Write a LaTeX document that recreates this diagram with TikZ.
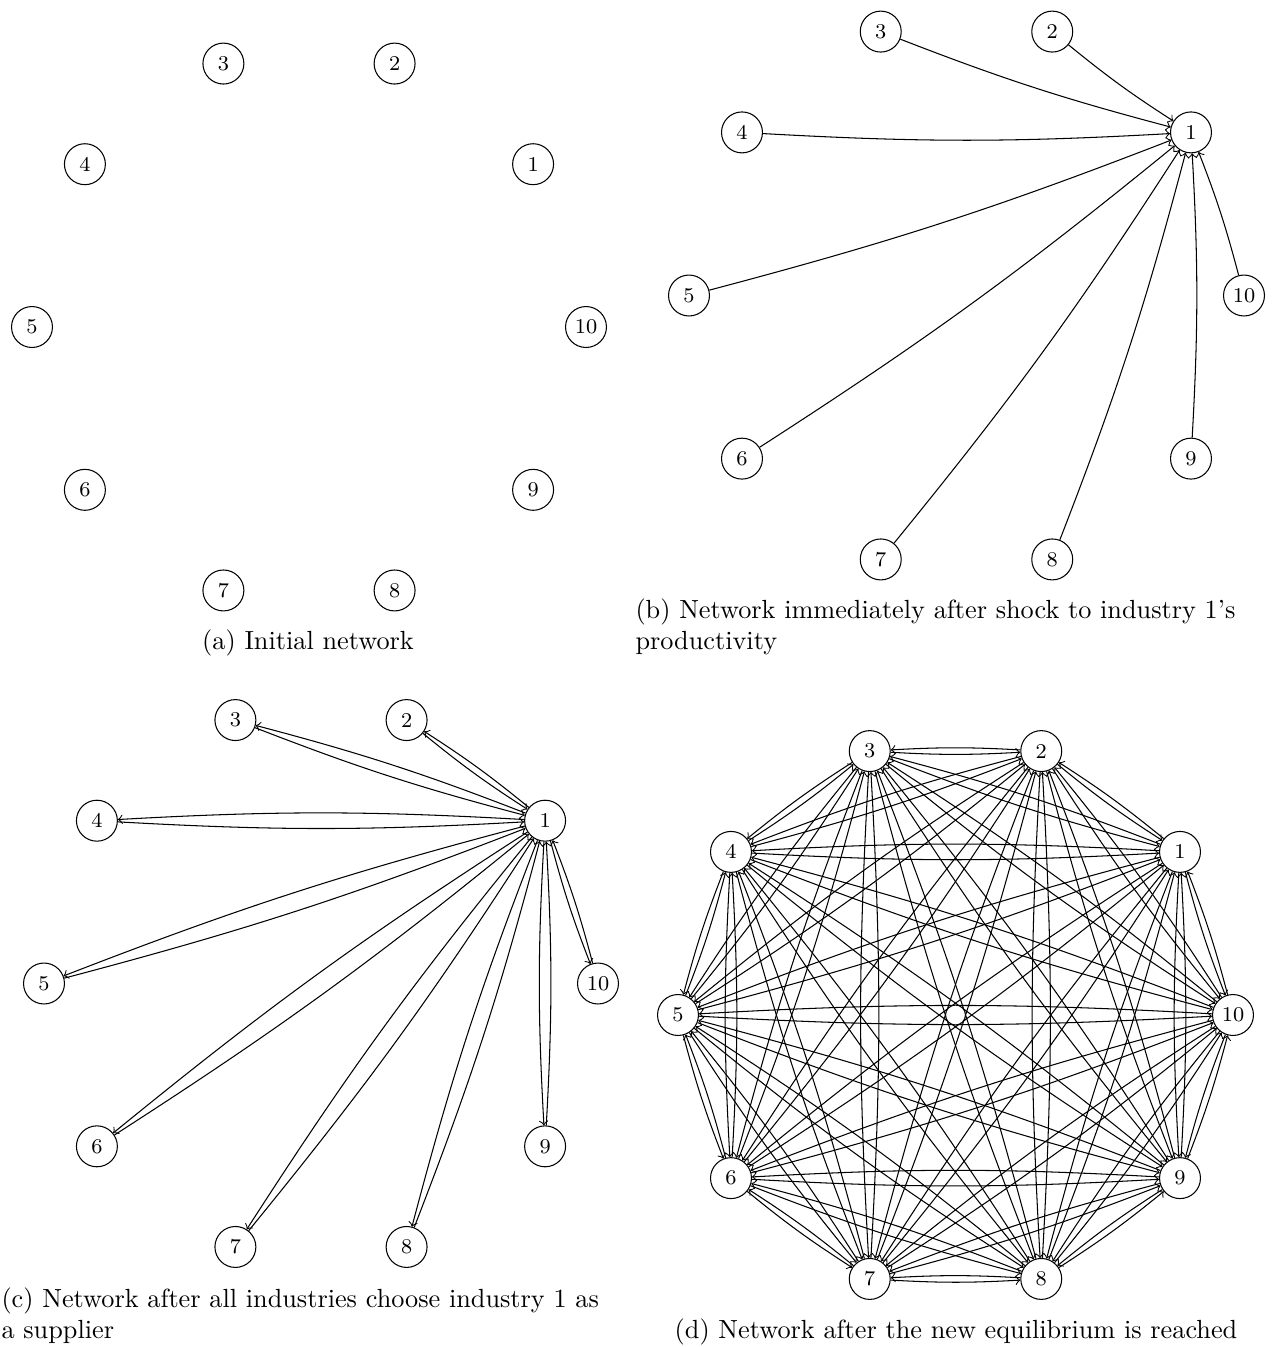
\documentclass[tikz,border=0pt]{standalone}
\usetikzlibrary{calc}
\begin{document}
\begin{tikzpicture}[x=0.381pt,y=-0.381pt,
  nd/.style={circle, draw, minimum size=15.6pt, inner sep=0pt, font=\footnotesize},
  cnode/.style={circle, draw, fill=white, minimum size=7.6pt, inner sep=0pt},
  edge/.style={->, line width=0.4pt, bend right=3.2},
  captext/.style={inner sep=0pt, font=\normalsize}]
\useasboundingbox (0,0) rectangle (1275,1347);
% panel (a)
\foreach \k in {1,...,10}{
  \node[nd] (a\k) at ($(309,327)+({-36*\k}:277)$) {\k};
}
% panel (b)
\foreach \k in {1,...,10}{
  \node[nd] (b\k) at ($(966.5,295.5)+({-36*\k}:277.5)$) {\k};
}
\foreach \k in {2,...,10}{
  \draw[edge] (b\k) to (b1);
}
% panel (c)
\foreach \k in {1,...,10}{
  \node[nd] (c\k) at ($(321,983.5)+({-36*\k}:277)$) {\k};
}
\foreach \k in {2,...,10}{
  \draw[edge] (c\k) to (c1);
  \draw[edge] (c1) to (c\k);
}
% panel (d)
\foreach \k in {1,...,10}{
  \node[nd] (d\k) at ($(955.5,1015)+({-36*\k}:277.5)$) {\k};
}
\foreach \i in {1,...,10}{
  \foreach \j in {1,...,10}{
    \ifnum\i=\j\relax\else\draw[edge] (d\i) to (d\j);\fi
  }
}
\node[cnode] (d0) at (955.5,1015) {};
% captions
\node[captext, anchor=base] (capa) at (308,649) {(a) Initial network};
\node[captext, anchor=base west] (capb1) at (635,618) {(b) Network immediately after shock to industry 1's};
\node[captext, anchor=base west] (capb2) at (635,649) {productivity};
\node[captext, anchor=base west] (capc1) at (1,1307) {(c) Network after all industries choose industry 1 as};
\node[captext, anchor=base west] (capc2) at (1,1338) {a supplier};
\node[captext, anchor=base] (capd) at (956,1338) {(d) Network after the new equilibrium is reached};
\end{tikzpicture}
\end{document}
